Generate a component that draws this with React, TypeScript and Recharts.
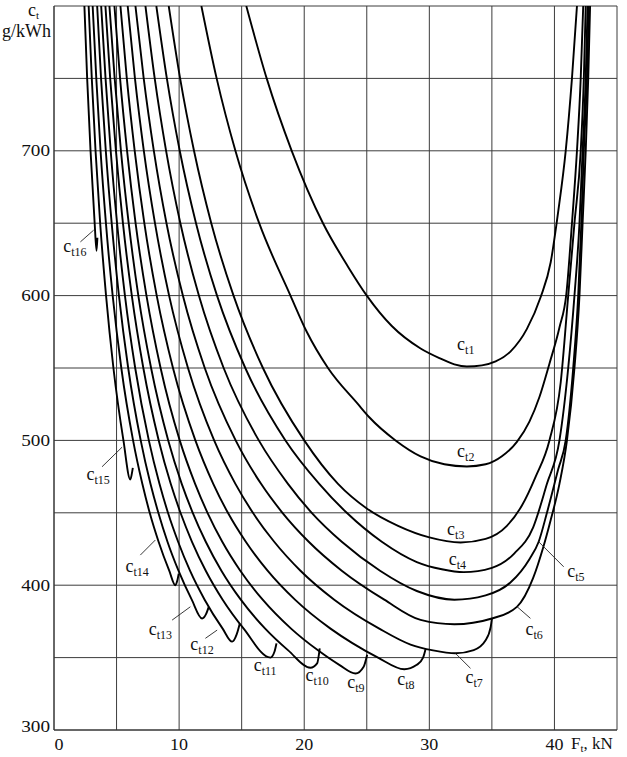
import React from 'react'
import {
  LineChart, Line, XAxis, YAxis, CartesianGrid, ReferenceDot, ReferenceLine,
} from 'recharts'

type Pt = [number, number]

// c_t curves: [F_t (kN), c_t (g/kWh)]
const ct1: Pt[] = [[15.37, 800], [17.0, 750], [19.0, 700], [21.5, 650], [23.5, 620], [25.0, 600], [27.0, 579], [29.3, 563.5], [30.9, 556.5], [32.0, 552.5], [33.0, 551], [34.2, 551.8], [35.3, 554.5], [36.5, 561.5], [37.8, 577], [38.9, 599], [39.7, 623], [40.3, 658], [40.9, 700], [41.4, 750], [41.8, 800]]
const ct2: Pt[] = [[11.78, 800], [13.0, 750], [14.5, 700], [16.4, 650], [18.9, 600], [20.2, 575], [21.9, 550], [24.3, 525], [25.2, 516], [27.3, 500], [29.3, 489], [31.2, 483.5], [33.0, 482], [34.5, 483.5], [35.8, 489], [37.0, 499], [38.0, 513], [38.8, 530], [39.6, 553], [40.4, 578], [40.95, 601], [41.4, 650], [41.8, 700], [42.1, 750], [42.3, 800]]
const ct3: Pt[] = [[9.17, 800], [10.08, 750], [11.19, 700], [12.57, 650], [14.35, 600], [16.7, 550], [20.0, 500], [22.7, 470], [25.0, 453], [27.5, 441], [30.0, 433], [32.5, 429.5], [34.5, 432], [36.2, 441], [37.4, 455], [38.5, 475], [39.6, 500], [40.5, 540], [41.1, 600], [41.6, 650], [42.1, 700], [42.35, 750], [42.5, 800]]
const ct4: Pt[] = [[8.18, 800], [9.02, 750], [10.05, 700], [11.35, 650], [13.03, 600], [15.29, 550], [18.5, 500], [21.2, 470], [23.4, 450], [26.2, 430], [29.0, 416], [31.0, 411], [32.75, 409], [35.0, 412], [36.8, 422], [38.3, 440], [39.4, 470], [40.4, 500], [41.1, 550], [41.6, 600], [42.0, 650], [42.25, 700], [42.5, 750], [42.65, 800]]
const ct5: Pt[] = [[7.31, 800], [8.05, 750], [8.96, 700], [10.1, 650], [11.58, 600], [13.56, 550], [16.37, 500], [18.7, 470], [20.6, 450], [23.0, 430], [26.06, 410], [29.0, 396], [32.0, 390], [34.5, 393], [36.5, 402], [38.0, 418], [38.74, 430], [39.4, 450], [40.3, 480], [40.9, 500], [41.5, 550], [41.9, 600], [42.15, 650], [42.35, 700], [42.6, 750], [42.75, 800]]
const ct6: Pt[] = [[6.51, 800], [7.17, 750], [7.98, 700], [8.99, 650], [10.3, 600], [12.05, 550], [14.52, 500], [16.55, 470], [18.26, 450], [20.36, 430], [23.0, 410], [26.4, 390], [29.3, 376], [32.0, 373], [35.0, 377], [37.0, 385], [38.3, 405], [39.1, 426], [39.7, 445], [40.4, 470], [41.0, 500], [41.6, 550], [42.0, 600], [42.25, 650], [42.5, 700], [42.7, 750], [42.85, 800]]
const ct7: Pt[] = [[5.89, 800], [6.47, 750], [7.18, 700], [8.07, 650], [9.2, 600], [10.71, 550], [12.8, 500], [14.5, 470], [15.9, 450], [17.6, 430], [19.7, 410], [22.4, 390], [26.0, 370], [28.5, 359], [30.3, 355], [32.1, 353], [33.55, 355.2], [34.5, 362], [34.9, 371], [35.0, 377]]
const ct8: Pt[] = [[5.31, 800], [5.82, 750], [6.45, 700], [7.22, 650], [8.21, 600], [9.51, 550], [11.3, 500], [12.73, 470], [13.9, 450], [15.33, 430], [17.07, 410], [19.26, 390], [22.1, 370], [23.85, 360], [25.9, 350], [28.0, 342], [29.0, 345], [29.5, 350], [29.7, 356]]
const ct9: Pt[] = [[4.83, 800], [5.28, 750], [5.84, 700], [6.52, 650], [7.39, 600], [8.52, 550], [10.05, 500], [11.28, 470], [12.27, 450], [13.45, 430], [14.89, 410], [16.68, 390], [18.95, 370], [21.1, 355], [22.8, 345], [24.1, 339], [24.75, 343.7], [25.03, 352]]
const ct10: Pt[] = [[4.43, 800], [4.85, 750], [5.35, 700], [5.97, 650], [6.74, 600], [7.76, 550], [9.13, 500], [10.21, 470], [11.09, 450], [12.13, 430], [13.38, 410], [14.93, 390], [16.88, 370], [18.72, 355], [20.5, 343], [21.03, 346], [21.24, 356.4]]
const ct11: Pt[] = [[4.11, 800], [4.49, 750], [4.95, 700], [5.51, 650], [6.22, 600], [7.14, 550], [8.37, 500], [9.33, 470], [10.11, 450], [11.03, 430], [12.13, 410], [13.48, 390], [15.16, 370], [17.3, 350], [17.62, 354], [17.78, 359.8]]
const ct12: Pt[] = [[3.77, 800], [4.12, 750], [4.53, 700], [5.04, 650], [5.67, 600], [6.49, 550], [7.58, 500], [8.43, 470], [9.11, 450], [9.92, 430], [10.87, 410], [12.04, 390], [13.48, 370], [14.24, 361], [14.6, 366], [14.85, 373.6]]
const ct13: Pt[] = [[3.45, 800], [3.76, 750], [4.14, 700], [4.61, 650], [5.19, 600], [5.93, 550], [6.93, 500], [7.71, 470], [8.34, 450], [9.07, 430], [9.95, 410], [11.01, 390], [11.84, 377], [12.15, 380], [12.37, 385]]
const ct14: Pt[] = [[3.09, 800], [3.38, 750], [3.72, 700], [4.15, 650], [4.69, 600], [5.38, 550], [6.32, 500], [7.06, 470], [7.65, 450], [8.36, 430], [9.21, 410], [9.7, 400], [9.85, 403], [9.97, 408]]
const ct15: Pt[] = [[2.77, 800], [3.02, 750], [3.32, 700], [3.69, 650], [4.16, 600], [4.75, 550], [5.55, 500], [6.1, 473], [6.2, 476], [6.3, 481]]
const ct16: Pt[] = [[2.43, 800], [2.65, 750], [2.92, 700], [3.25, 650], [3.4, 631], [3.47, 640]]

const curves = [ct1, ct2, ct3, ct4, ct5, ct6, ct7, ct8, ct9, ct10, ct11, ct12, ct13, ct14, ct15, ct16]

const xTicks = [0, 5, 10, 15, 20, 25, 30, 35, 40, 45]
const xLabels = [0, 10, 20, 30, 40]
const yTicks = [300, 350, 400, 450, 500, 550, 600, 650, 700, 750, 800]
const yLabels = [300, 400, 500, 600, 700]

// curve name labels (text start, baseline) and leader lines
const labelSubs = ['t1', 't2', 't3', 't4', 't5', 't6', 't7', 't8', 't9', 't10', 't11', 't12', 't13', 't14', 't15', 't16']
const labelX = [32.22, 32.22, 31.42, 31.55, 41.02, 37.68, 32.89, 27.43, 23.43, 20.1, 15.96, 10.9, 7.57, 5.71, 2.59, 0.73]
const labelY = [562.6, 488.8, 434.6, 413.9, 405.6, 365.6, 332.4, 331.1, 329, 333.5, 341, 355.2, 365.6, 409.4, 472.6, 630.3]
const leaders: [number, number, number, number][] = [
  [38.74, 430, 40.74, 412.7],
  [37.02, 385.1, 38.08, 377.1],
  [32.09, 352.9, 33.29, 342.6],
  [12.1, 363.3, 13.04, 369],
  [9.44, 375.9, 10.9, 385.1],
  [6.9, 420.8, 8.1, 431.2],
  [3.84, 481.8, 5.44, 495.3],
  [2.11, 637.1, 3.17, 645.2],
]

const serif = '"Liberation Serif", "Times New Roman", serif'

const XTick = (p: any) => {
  const v = p.payload.value
  if (!xLabels.includes(v)) return <g />
  const s = String(v)
  return (
    <text x={p.x + (v === 0 ? 5 : 0)} y={p.y} dy="0.71em" textAnchor="middle"
      fontFamily={serif} fontSize={16} fill="#111"
      textLength={s.length * 9} lengthAdjust="spacingAndGlyphs">{s}</text>
  )
}

const YTick = (p: any) => {
  const v = p.payload.value
  if (!yLabels.includes(v)) return <g />
  const s = String(v)
  return (
    <text x={p.x} y={p.y + (v === 300 ? -4 : 0)} dy="0.355em" textAnchor="end"
      fontFamily={serif} fontSize={16} fill="#111"
      textLength={s.length * 9.6} lengthAdjust="spacingAndGlyphs">{s}</text>
  )
}

const curveLabel = (sub: string) => (p: any) => (
  <text x={p.cx} y={p.cy} fontFamily={serif} fontSize={18} fill="#111">
    c<tspan fontSize={12} dy={4}>{sub}</tspan>
  </text>
)

export default function App() {
  return (
    <div style={{ position: 'absolute', left: 0, top: 0, width: 627, height: 757, background: '#fff' }}>
      <LineChart width={627} height={757} margin={{ top: 6, right: 10, left: 4, bottom: 0 }}>
        <CartesianGrid stroke="#3c3c3c" strokeWidth={1} />
        <XAxis type="number" dataKey="x" domain={[0, 45]} ticks={xTicks} height={27}
          tick={XTick} tickLine={false} tickSize={0} tickMargin={9}
          axisLine={{ stroke: '#333' }} allowDataOverflow />
        <YAxis type="number" dataKey="y" domain={[300, 800]} ticks={yTicks} width={50}
          tick={YTick} tickLine={false} tickSize={0} tickMargin={4}
          axisLine={{ stroke: '#333' }} allowDataOverflow />
        {curves.map((c, i) => (
          <Line key={i} data={c.map(([x, y]) => ({ x, y }))} dataKey="y"
            type="monotone" stroke="#000" strokeWidth={1.9} dot={false}
            isAnimationActive={false} />
        ))}
        {leaders.map(([x1, y1, x2, y2], i) => (
          <ReferenceLine key={'l' + i} segment={[{ x: x1, y: y1 }, { x: x2, y: y2 }]}
            stroke="#222" strokeWidth={0.9} />
        ))}
        {labelSubs.map((s, i) => (
          <ReferenceDot key={'d' + i} x={labelX[i]} y={labelY[i]} r={0}
            shape={curveLabel(s)} />
        ))}
      </LineChart>
      <svg width={627} height={757} style={{ position: 'absolute', left: 0, top: 0, pointerEvents: 'none' }}>
        <text x={28} y={16} fontFamily={serif} fontSize={18} fill="#111">
          c<tspan fontSize={11} dy={3}>t</tspan>
        </text>
        <text x={2} y={37} fontFamily={serif} fontSize={18} fill="#111">g/kWh</text>
        <text x={571} y={749} fontFamily={serif} fontSize={17} fill="#111">
          F<tspan fontSize={11} dy={3}>t</tspan><tspan dy={-3}>, kN</tspan>
        </text>
      </svg>
    </div>
  )
}
